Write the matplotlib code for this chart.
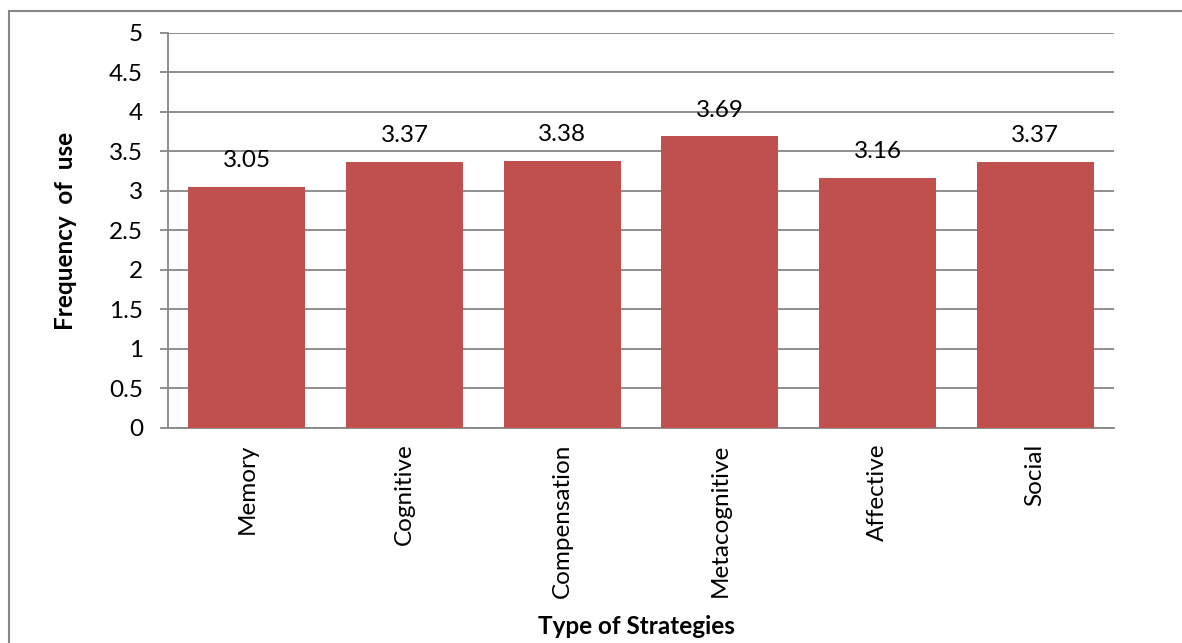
import matplotlib.pyplot as plt
from matplotlib.patches import Rectangle

categories = ["Memory", "Cognitive", "Compensation", "Metacognitive", "Affective", "Social"]
values = [3.05, 3.37, 3.38, 3.69, 3.16, 3.37]
yticks = [0, 0.5, 1, 1.5, 2, 2.5, 3, 3.5, 4, 4.5, 5]
ytick_labels = ["0", "0.5", "1", "1.5", "2", "2.5", "3", "3.5", "4", "4.5", "5"]

plt.rcParams["font.family"] = ["Lato", "DejaVu Sans"]

bar_color = "#C0504D"
grid_color = "#868686"
fs = 17.5

fig = plt.figure(figsize=(11.82, 6.43), dpi=100)
ax = fig.add_axes([0.1421, 0.3344, 0.8004, 0.6143])

x = range(len(categories))
ax.bar(x, values, width=0.74, color=bar_color, zorder=3)
for xi, v in zip(x, values):
    ax.annotate(f"{v:.2f}", (xi, v), xytext=(0, 19), textcoords="offset points",
                ha="center", va="center", fontsize=fs)

ax.set_xlim(-0.5, len(categories) - 0.5)
ax.set_ylim(0, 5)
ax.set_yticks(yticks)
ax.set_yticklabels(ytick_labels, fontsize=fs)
ax.set_xticks(list(x))
ax.set_xticklabels(categories, rotation=90, fontsize=fs)
ax.tick_params(axis="x", length=0, pad=11)
ax.tick_params(axis="y", length=6, width=1.3, color=grid_color, pad=12)

ax.grid(axis="y", color=grid_color, linewidth=1.3, zorder=0)
for s in ["top", "right"]:
    ax.spines[s].set_visible(False)
for s in ["left", "bottom"]:
    ax.spines[s].set_color(grid_color)
    ax.spines[s].set_linewidth(1.3)

ax.set_ylabel("Frequency  of  use", fontsize=fs, fontweight="bold")
ax.yaxis.set_label_coords(-0.096, 0.5)
fig.text(0.5385, 0.026, "Type of Strategies", ha="center", va="center",
         fontsize=fs, fontweight="bold")

# outer chart border (cropped on right and bottom)
fig.patches.append(Rectangle((9 / 1182, -0.1), 1.2, 1 - 11 / 643 + 0.1,
                             transform=fig.transFigure, fill=False,
                             edgecolor=grid_color, linewidth=1.5))

fig.savefig("out.png", dpi=100)
